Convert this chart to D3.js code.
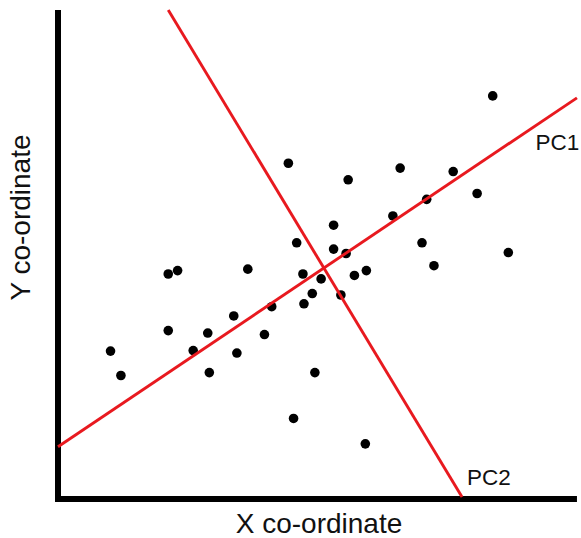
<!DOCTYPE html>
<html>
<head>
<meta charset="utf-8">
<script src="https://cdn.jsdelivr.net/npm/d3@7"></script>
<style>
  html, body { margin: 0; padding: 0; background: #fff; }
  svg { display: block; }
  text { font-family: "Liberation Sans", Arial, sans-serif; fill: #111; }
</style>
</head>
<body>
<svg id="chart" width="581" height="538"></svg>
<script>
// ---- data (arbitrary units, 0..10 on both axes) ----
const pointX = [1.01,1.21,2.12,2.30,2.12,2.60,2.88,2.91,3.38,3.44,3.65,3.97,4.11,4.43,4.59,4.71,4.73,4.89,5.06,4.94,4.53,5.30,5.30,5.44,5.54,5.58,5.70,5.93,5.91,6.44,6.58,7.00,7.09,7.23,7.60,8.06,8.36,8.66];
const pointY = [3.01,2.51,4.59,4.66,3.43,3.02,3.38,2.57,3.73,2.97,4.69,3.35,3.92,6.86,5.23,4.59,3.98,4.19,4.49,2.57,1.63,5.59,5.10,4.16,5.01,6.52,4.56,4.66,1.11,5.78,6.76,5.23,6.12,4.76,6.69,6.24,8.24,5.03];
const pcNames = ["PC1", "PC2"];
const pcStart = [[0.00, 1.05], [2.12, 10.00]];
const pcEnd   = [[9.98, 8.20], [7.77, 0.02]];
const axisTitles = ["X co-ordinate", "Y co-ordinate"];

// ---- layout ----
const svg = d3.select("#chart");
const x = d3.scaleLinear().domain([0, 10]).range([58, 578]);
const y = d3.scaleLinear().domain([0, 10]).range([498, 10]);

// axes (L shape, no ticks)
const axisPts = [[0, 10], [0, 0], [9.98, 0]];
svg.append("path")
  .attr("d", d3.line().x(d => x(d[0])).y(d => y(d[1]) + (d[1] === 0 ? 1 : 0))(axisPts))
  .attr("fill", "none")
  .attr("stroke", "#000")
  .attr("stroke-width", 6)
  .attr("stroke-linejoin", "miter");

// points
const pts = pointX.map((v, i) => ({ x: v, y: pointY[i] }));
svg.append("g").selectAll("circle").data(pts).join("circle")
  .attr("cx", d => x(d.x))
  .attr("cy", d => y(d.y))
  .attr("r", 4.8)
  .attr("fill", "#000");

// principal component lines
const pcs = pcNames.map((n, i) => ({ name: n, a: pcStart[i], b: pcEnd[i] }));
svg.append("g").selectAll("line").data(pcs).join("line")
  .attr("x1", d => x(d.a[0])).attr("y1", d => y(d.a[1]))
  .attr("x2", d => x(d.b[0])).attr("y2", d => y(d.b[1]))
  .attr("stroke", "#e8191f")
  .attr("stroke-width", 2.9);

// PC labels
svg.append("text").text(pcNames[0])
  .attr("x", 535.5).attr("y", 150).attr("font-size", 22.5);
svg.append("text").text(pcNames[1])
  .attr("x", 467).attr("y", 484.5).attr("font-size", 22.5);

// axis titles
svg.append("text").text(axisTitles[0])
  .attr("x", 319).attr("y", 533)
  .attr("text-anchor", "middle").attr("font-size", 28);
svg.append("text").text(axisTitles[1])
  .attr("transform", "translate(30,217.5) rotate(-90)")
  .attr("text-anchor", "middle").attr("font-size", 28);
</script>
</body>
</html>
